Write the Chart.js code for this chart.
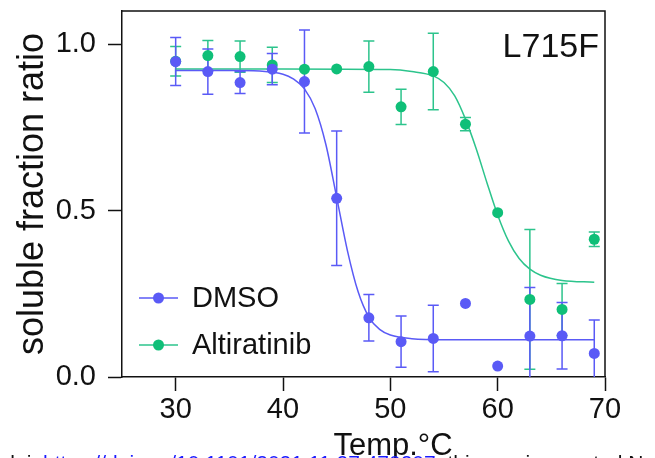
<!DOCTYPE html>
<html>
<head>
<meta charset="utf-8">
<script src="https://cdn.jsdelivr.net/npm/chart.js@4/dist/chart.umd.min.js"></script>
<style>
html, body { margin: 0; padding: 0; background: #fff; overflow: hidden; }
</style>
</head>
<body>
<canvas id="chart" width="655" height="458"></canvas>
<script>
/*----------------------------------------------------------------------------*/
/* Data                                                                       */
/*----------------------------------------------------------------------------*/
const temps = [30, 33, 36, 39, 42, 45, 48, 51, 54, 57, 60, 63, 66, 69];

const dmso_values = [0.948, 0.918, 0.885, 0.925, 0.888, 0.537, 0.178, 0.106, 0.116, 0.221, 0.033, 0.123, 0.124, 0.071];
const dmso_errors = [0.072, 0.068, 0.033, 0.047, 0.155, 0.202, 0.070, 0.077, 0.100, 0, 0, 0.146, 0.100, 0.100];

const alti_values = [0.949, 0.966, 0.963, 0.938, 0.925, 0.926, 0.933, 0.812, 0.918, 0.760, 0.494, 0.233, 0.203, 0.414];
const alti_errors = [0.044, 0.045, 0.047, 0.053, 0, 0, 0.077, 0.053, 0.115, 0.020, 0, 0.210, 0.078, 0.022];

// fitted curves
const dmso_fit_temps = [30, 36, 40, 41, 42, 43, 44, 45, 46, 47, 48, 49, 50, 52, 55, 60, 69];
const dmso_fit = [0.921, 0.921, 0.910, 0.895, 0.866, 0.806, 0.698, 0.540, 0.380, 0.256, 0.180, 0.143, 0.126, 0.115, 0.112, 0.112, 0.112];

const alti_fit_temps = [30, 40, 50, 52, 54, 55, 56, 57, 58, 59, 60, 61, 62, 63, 64, 66, 69];
const alti_fit = [0.926, 0.926, 0.924, 0.918, 0.905, 0.885, 0.845, 0.775, 0.686, 0.584, 0.487, 0.409, 0.356, 0.324, 0.306, 0.290, 0.285];

const series_names = ["DMSO", "Altiratinib"];
const x_ticks = [30, 40, 50, 60, 70];
const y_ticks = [0, 0.5, 1.0];

const blue = "#5a5af6";
const green = "#0fbf78";
const green_line = "#2cc48c";
const ink = "#111111";
const font_family = "'Liberation Sans', Arial, sans-serif";

/*----------------------------------------------------------------------------*/
/* Helpers                                                                    */
/*----------------------------------------------------------------------------*/
function to_points(xs, ys) {
    return xs.map((x, i) => ({ x: x, y: ys[i] }));
}

// vertical error bars with caps, clipped to the plot area
const error_bars = {
    id: "error_bars",
    beforeDatasetsDraw(chart) {
        const ctx = chart.ctx;
        const area = chart.chartArea;
        const xs = chart.scales.x;
        const ys = chart.scales.y;
        ctx.save();
        ctx.beginPath();
        ctx.rect(area.left, area.top, area.right - area.left, area.bottom - area.top);
        ctx.clip();
        ctx.lineWidth = 1.5;
        for (let d = chart.data.datasets.length - 1; d >= 0; d--) {
            const ds = chart.data.datasets[d];
            if (!ds.errors) continue;
            ctx.strokeStyle = ds.barColor;
            ds.data.forEach((p, i) => {
                const e = ds.errors[i];
                if (!e) return;
                const x = xs.getPixelForValue(p.x);
                const y1 = ys.getPixelForValue(p.y + e);
                const y2 = ys.getPixelForValue(p.y - e);
                ctx.beginPath();
                ctx.moveTo(x, y1); ctx.lineTo(x, y2);
                ctx.moveTo(x - 5.5, y1); ctx.lineTo(x + 5.5, y1);
                ctx.moveTo(x - 5.5, y2); ctx.lineTo(x + 5.5, y2);
                ctx.stroke();
            });
        }
        ctx.restore();
    }
};

// frame, legend, label and page text
const decorations = {
    id: "decorations",
    afterDraw(chart) {
        const ctx = chart.ctx;
        const area = chart.chartArea;
        ctx.save();

        // top and right edges of the box
        ctx.strokeStyle = ink;
        ctx.lineWidth = 1.5;
        ctx.beginPath();
        ctx.moveTo(area.left, area.top);
        ctx.lineTo(area.right, area.top);
        ctx.lineTo(area.right, area.bottom);
        ctx.stroke();

        // legend
        const colors = [[blue, blue], [green_line, green]];
        series_names.forEach((name, i) => {
            const y = 298 + i * 47;
            ctx.strokeStyle = colors[i][0];
            ctx.lineWidth = 1.5;
            ctx.beginPath();
            ctx.moveTo(139, y); ctx.lineTo(178, y);
            ctx.stroke();
            ctx.fillStyle = colors[i][1];
            ctx.beginPath();
            ctx.arc(158.5, y, 5.5, 0, Math.PI * 2);
            ctx.fill();
            ctx.fillStyle = ink;
            ctx.font = "29px " + font_family;
            ctx.textAlign = "left";
            ctx.textBaseline = "middle";
            ctx.fillText(name, 192, y + 1);
        });

        // panel label
        ctx.fillStyle = ink;
        ctx.font = "34px " + font_family;
        ctx.textAlign = "right";
        ctx.textBaseline = "alphabetic";
        ctx.fillText("L715F", 599, 57);

        // x axis title
        ctx.font = "31px " + font_family;
        ctx.textAlign = "center";
        ctx.fillText("Temp.\u00B0C", 393, 455);

        // page header line, mostly cut off by the bottom edge
        ctx.font = "21px " + font_family;
        ctx.textAlign = "right";
        ctx.fillStyle = ink;
        ctx.fillText("bioRxiv preprint doi: ", 43, 470);
        ctx.textAlign = "left";
        ctx.fillStyle = "#1a1aff";
        const link = "https://doi.org/10.1101/2021.11.27.470207";
        ctx.fillText(link, 43, 470);
        const w = ctx.measureText(link).width;
        ctx.fillStyle = ink;
        ctx.fillText("; this version posted November 29, 2021. The copyright holder", 43 + w, 470);

        ctx.restore();
    }
};

/*----------------------------------------------------------------------------*/
/* Chart                                                                      */
/*----------------------------------------------------------------------------*/
const config = {
    type: "scatter",
    data: {
        datasets: [
            {
                label: series_names[0],
                data: to_points(temps, dmso_values),
                errors: dmso_errors,
                barColor: blue,
                backgroundColor: blue,
                borderColor: blue,
                pointRadius: 5.5,
                borderWidth: 0,
                showLine: false
            },
            {
                label: series_names[1],
                data: to_points(temps, alti_values),
                errors: alti_errors,
                barColor: green_line,
                backgroundColor: green,
                borderColor: green,
                pointRadius: 5.5,
                borderWidth: 0,
                showLine: false
            },
            {
                label: "DMSO fit",
                data: to_points(dmso_fit_temps, dmso_fit),
                borderColor: blue,
                borderWidth: 1.5,
                pointRadius: 0,
                showLine: true,
                cubicInterpolationMode: "monotone"
            },
            {
                label: "Altiratinib fit",
                data: to_points(alti_fit_temps, alti_fit),
                borderColor: green_line,
                borderWidth: 1.5,
                pointRadius: 0,
                showLine: true,
                cubicInterpolationMode: "monotone"
            }
        ]
    },
    options: {
        responsive: false,
        animation: false,
        devicePixelRatio: 1,
        layout: { padding: { top: 11, right: 50, left: 0, bottom: 0 } },
        plugins: {
            legend: { display: false },
            tooltip: { enabled: false }
        },
        scales: {
            x: {
                type: "linear",
                min: 25,
                max: 70,
                afterBuildTicks: scale => { scale.ticks = x_ticks.map(v => ({ value: v })); },
                afterFit: scale => {
                    scale.height = 81;
                    scale.paddingLeft = 0;
                    scale.paddingRight = 0;
                },
                grid: { drawOnChartArea: false, drawTicks: true, tickLength: 14, tickWidth: 1.5, tickColor: ink },
                border: { display: true, color: ink, width: 1.5 },
                ticks: { color: ink, padding: 2, maxRotation: 0, font: { family: font_family, size: 29 } }
            },
            y: {
                type: "linear",
                min: 0,
                max: 1.1,
                afterBuildTicks: scale => { scale.ticks = y_ticks.map(v => ({ value: v })); },
                afterFit: scale => {
                    scale.width = 122;
                    scale.paddingTop = 0;
                    scale.paddingBottom = 0;
                },
                grid: { drawOnChartArea: false, drawTicks: true, tickLength: 14, tickWidth: 1.5, tickColor: ink },
                border: { display: true, color: ink, width: 1.5 },
                ticks: {
                    color: ink,
                    padding: 12,
                    font: { family: font_family, size: 29 },
                    callback: v => v.toFixed(1)
                },
                title: {
                    display: true,
                    text: "soluble fraction ratio",
                    color: ink,
                    font: { family: font_family, size: 36, lineHeight: 1.2 },
                    padding: { top: 11, bottom: 0 }
                }
            }
        }
    },
    plugins: [error_bars, decorations]
};

const chart_tag = document.getElementById("chart");
const my_chart = new Chart(chart_tag.getContext("2d"), config);
</script>
</body>
</html>
